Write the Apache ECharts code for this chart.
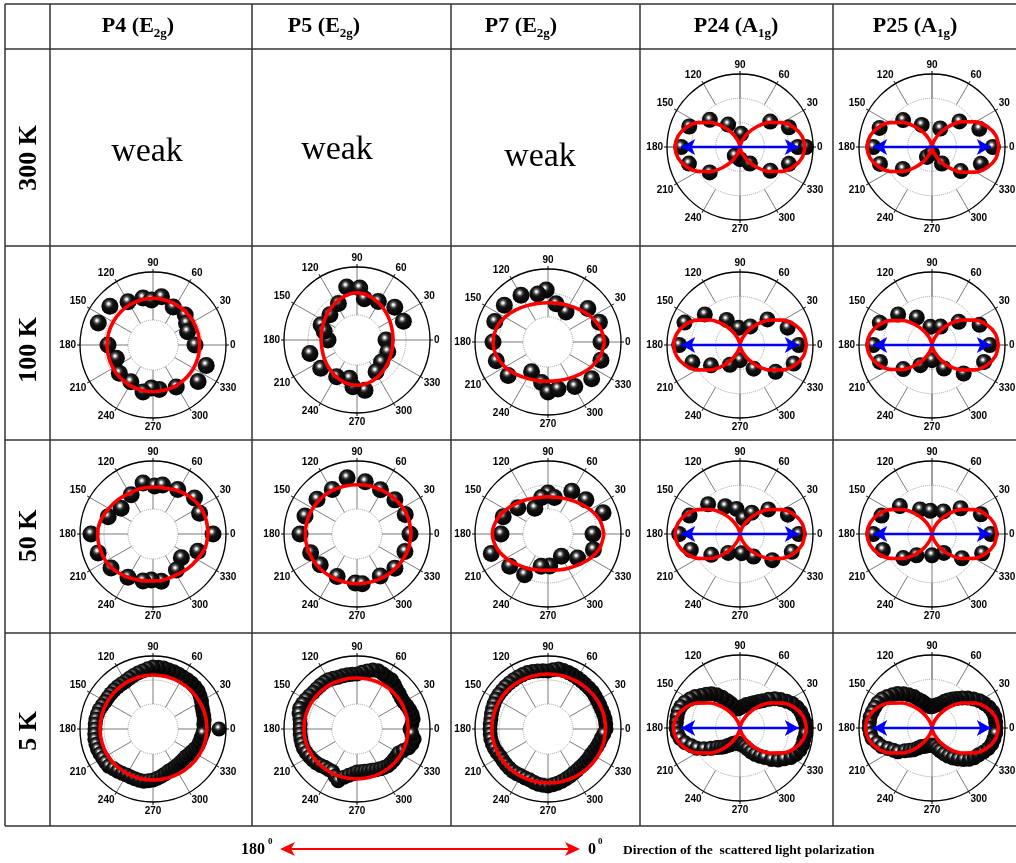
<!DOCTYPE html>
<html><head><meta charset="utf-8">
<script src="https://cdn.jsdelivr.net/npm/echarts@6/dist/echarts.min.js"></script>
<style>html,body{margin:0;padding:0;background:#fff}#c{width:1016px;height:863px}</style>
</head><body><div id="c"></div>
<script>
// ---------- labels ----------
const ROW_LABELS = ['300 K', '100 K', '50 K', '5 K'];
const PEAK_NAMES = ['P4', 'P5', 'P7', 'P24', 'P25'];
const SYM_MAIN = ['E', 'E', 'E', 'A', 'A'];
const SYM_SUB = ['2g', '2g', '2g', '1g', '1g'];
const WEAK_TEXT = 'weak';
const FOOT_LEFT = '180';
const FOOT_RIGHT = '0';
const FOOT_DEG = '0';
const FOOT_TEXT = 'Direction of the  scattered light polarization';

// ---------- angles ----------
const FIT_ANGLES_15 = [0,15,30,45,60,75,90,105,120,135,150,165,180,195,210,225,240,255,270,285,300,315,330,345,360];
const FIT_ANGLES_10 = [0,10,20,30,40,50,60,70,80,90,100,110,120,130,140,150,160,170,180,190,200,210,220,230,240,250,260,270,280,290,300,310,320,330,340,350,360];
const ANGLES_5 = [0,5,10,15,20,25,30,35,40,45,50,55,60,65,70,75,80,85,90,95,100,105,110,115,120,125,130,135,140,145,150,155,160,165,170,175,180,185,190,195,200,205,210,215,220,225,230,235,240,245,250,255,260,265,270,275,280,285,290,295,300,305,310,315,320,325,330,335,340,345,350,355];

// ---------- measured points [intensity, angle] ----------
const P24_300K_BALLS = [[5.8,180],[5.4,158],[4.0,138],[2.5,118],[1.3,85],[1.2,270],[3.9,40],[5.2,22],[5.7,0],[6.5,0],[5.1,341],[3.8,322],[1.9,301],[1.0,239],[3.9,220],[5.3,198]];
const P25_300K_BALLS = [[5.8,180],[5.5,160],[3.9,137],[2.4,115],[2.0,66],[3.7,43],[5.0,21],[6.0,0],[5.1,341],[3.7,320],[1.9,301],[1.1,243],[3.6,217],[5.4,198],[0.6,270]];
const P4_100K_BALLS = [[3.3,138],[3.4,158],[2.5,120],[2.3,102],[2.0,92],[2.4,80],[1.8,62],[1.9,43],[1.5,33],[1.2,21],[1.7,0],[3.2,339],[3.3,321],[2.3,299],[2.0,278],[1.8,268],[2.3,258],[1.8,239],[1.9,220],[1.4,200],[2.0,180]];
const P5_100K_BALLS = [[2.9,101],[2.7,87],[1.7,80],[1.9,61],[2.5,41],[2.5,22],[0.4,0],[0.8,339],[0.8,318],[1.2,301],[2.6,279],[2.2,265],[1.4,259],[1.7,241],[2.1,218],[2.4,196],[0.4,180],[1.4,157],[0.9,165],[1.2,137],[1.6,117]];
const P7_100K_BALLS = [[2.7,92],[2.4,102],[2.9,120],[3.2,140],[3.2,159],[3.0,180],[3.0,200],[2.7,220],[0.9,241],[1.6,261],[2.5,270],[2.3,282],[2.7,301],[3.2,320],[3.1,341],[2.8,0],[3.0,21],[2.7,40],[1.0,59],[1.4,78]];
const P24_100K_BALLS = [[6.0,180],[5.9,158],[4.6,139],[2.8,118],[1.7,95],[2.1,61],[3.7,43],[5.0,20],[5.8,0],[5.6,341],[4.4,323],[2.7,300],[1.5,270],[2.2,243],[3.5,215],[5.0,200]];
const P25_100K_BALLS = [[5.8,180],[5.6,157],[4.5,138],[3.1,119],[1.8,95],[2.0,65],[3.5,41],[5.1,23],[5.7,0],[5.4,342],[4.2,318],[2.6,297],[1.5,270],[2.3,240],[3.7,220],[5.4,198]];
const P4_50K_BALLS = [[3.7,180],[2.3,159],[1.6,141],[2.0,119],[2.7,101],[2.3,88],[2.5,79],[2.6,61],[3.0,41],[2.6,24],[3.5,0],[2.3,339],[1.2,320],[1.8,303],[2.3,280],[2.1,268],[2.3,258],[2.5,240],[2.9,219],[3.3,199]];
const P5_50K_BALLS = [[3.2,180],[3.0,161],[2.8,139],[2.6,119],[3.2,100],[2.8,81],[2.5,62],[2.6,42],[2.7,22],[2.8,0],[2.6,340],[2.6,318],[2.3,299],[2.4,268],[2.5,276],[2.2,245],[2.3,220],[2.5,202]];
const P7_50K_BALLS = [[2.2,180],[2.3,159],[1.5,139],[0.4,117],[1.6,90],[1.2,100],[1.2,80],[2.4,61],[2.6,42],[3.4,21],[2.0,0],[2.3,341],[1.3,321],[0.1,301],[0.7,273],[0.8,258],[2.2,240],[2.5,220],[3.5,199]];
const P24_50K_BALLS = [[6.0,180],[5.3,160],[4.3,137],[3.1,118],[2.5,98],[1.6,78],[2.4,61],[3.7,41],[5.1,22],[5.8,0],[5.4,341],[4.1,321],[2.6,301],[1.9,275],[2.2,238],[3.5,216],[5.1,198]];
const P25_50K_BALLS = [[5.8,180],[5.3,160],[4.2,139],[2.7,116],[2.3,94],[2.5,63],[3.8,42],[5.2,22],[5.8,0],[5.3,339],[3.8,321],[2.2,302],[2.1,270],[2.6,234],[3.7,220],[5.1,198]];

// 5 K: intensities at ANGLES_5
const P4_5K_R = [2.6,2.6,2.7,2.75,2.8,2.9,3.1,3.25,3.4,3.45,3.5,3.5,3.5,3.55,3.6,3.6,3.7,3.7,3.7,3.55,3.4,3.3,3.2,3.1,3.0,3.0,3.0,3.0,3.0,3.0,3.0,3.1,3.2,3.25,3.3,3.3,3.3,3.35,3.4,3.4,3.4,3.35,3.3,3.3,3.3,3.1,3.0,2.9,2.8,2.8,2.8,2.8,2.8,2.7,2.6,2.45,2.3,2.15,2.0,1.95,1.9,1.85,1.8,1.8,1.8,1.9,2.0,2.15,2.3,2.35,2.4,2.5];
const P4_5K_EXTRA = [[4.1,0]];
const P5_5K_R = [2.8,3.0,3.2,3.2,3.1,3.0,2.9,2.9,3.0,3.1,3.3,3.5,3.5,3.6,3.7,3.6,3.4,3.2,3.0,3.0,3.0,3.0,3.0,3.1,3.2,3.2,3.2,3.2,3.2,3.3,3.4,3.5,3.6,3.5,3.3,3.2,3.2,3.2,3.2,3.2,3.2,3.1,3.0,2.9,2.8,2.65,2.5,2.45,2.4,2.7,3.0,2.5,2.2,2.0,1.8,1.8,1.8,1.85,1.9,2.0,2.1,2.2,2.3,2.3,2.3,2.3,2.3,2.6,3.0,3.2,3.3,3.0];
const P7_5K_R = [3.3,3.3,3.3,3.25,3.2,3.2,3.2,3.25,3.3,3.3,3.3,3.35,3.4,3.45,3.5,3.55,3.6,3.45,3.3,3.35,3.4,3.45,3.5,3.5,3.5,3.5,3.5,3.5,3.5,3.5,3.5,3.45,3.4,3.35,3.3,3.3,3.3,3.3,3.3,3.25,3.2,3.1,3.0,3.0,3.0,3.0,3.0,2.95,2.9,2.9,2.9,3.0,3.1,3.15,3.2,3.1,3.0,2.9,2.8,2.7,2.6,2.55,2.5,2.5,2.5,2.5,2.5,2.6,2.7,2.8,2.9,3.1];
const P24_5K_R = [6.5,6.45,6.3,6.2,6.0,5.7,5.3,4.9,4.5,4.0,3.5,3.2,2.9,2.7,2.5,2.4,2.2,2.1,2.0,1.9,1.9,2.2,2.6,3.0,3.5,4.0,4.4,4.7,5.0,5.4,5.7,6.0,6.2,6.3,6.3,6.3,6.3,6.2,6.0,5.6,5.1,4.7,4.1,3.5,3.0,2.7,2.4,2.1,1.9,1.7,1.6,1.5,1.5,1.5,1.6,1.6,1.7,1.9,2.2,2.6,3.0,3.4,3.8,4.4,4.9,5.3,5.8,6.1,6.3,6.4,6.4,6.5];
const P25_5K_R = [6.3,6.3,6.3,6.2,6.0,5.7,5.4,5.0,4.6,4.2,3.8,3.5,3.2,2.9,2.6,2.4,2.3,2.2,2.1,2.1,2.2,2.5,2.8,3.1,3.6,4.0,4.4,4.8,5.1,5.4,5.7,5.9,6.0,6.1,6.2,6.2,6.2,6.1,6.0,5.6,5.3,4.8,4.4,4.1,3.5,3.1,2.8,2.4,2.1,2.0,1.9,1.8,1.7,1.7,1.7,1.7,1.8,2.1,2.4,2.8,3.2,3.6,4.0,4.4,4.8,5.1,5.3,5.6,5.9,6.1,6.2,6.3];

// ---------- fitted curves ----------
const P4_100K_FIT = [2.17,2.16,2.15,2.15,2.16,2.17,2.17,2.16,2.14,2.12,2.1,2.1,2.1,2.1,2.12,2.14,2.16,2.17,2.17,2.17,2.17,2.17,2.17,2.17,2.17];
const P5_100K_FIT = [1.1,1.15,1.3,1.52,1.8,2.07,2.22,2.07,1.8,1.52,1.3,1.15,1.08,1.12,1.27,1.47,1.72,1.93,2.02,1.93,1.72,1.47,1.27,1.13,1.1];
const P7_100K_FIT = [3.15,2.92,2.5,2.05,1.7,1.5,1.43,1.5,1.7,2.05,2.48,2.85,3.0,2.85,2.48,2.05,1.7,1.5,1.43,1.5,1.7,2.05,2.5,2.92,3.15];
const P4_50K_FIT = [3.0,3.0,2.95,2.75,2.5,2.25,2.2,2.2,2.2,2.4,2.6,2.9,3.05,3.0,2.95,2.75,2.5,2.3,2.2,2.2,2.2,2.4,2.6,2.9,3.0];
const P5_50K_FIT = [2.9,2.87,2.78,2.65,2.55,2.47,2.43,2.45,2.5,2.56,2.62,2.66,2.67,2.66,2.62,2.56,2.5,2.47,2.47,2.5,2.56,2.65,2.75,2.85,2.9];
const P7_50K_FIT = [3.1,2.87,2.37,1.86,1.5,1.28,1.22,1.28,1.5,1.86,2.35,2.82,3.07,2.82,2.35,1.84,1.47,1.22,1.13,1.22,1.47,1.84,2.37,2.87,3.1];
const P4_5K_FIT = [2.9,2.9,2.9,2.9,2.9,2.9,2.9,2.88,2.86,2.84,2.82,2.8,2.8,2.78,2.75,2.7,2.65,2.62,2.6,2.62,2.66,2.72,2.8,2.86,2.9];
const P5_5K_FIT = [2.62,2.63,2.65,2.66,2.65,2.62,2.6,2.63,2.68,2.73,2.77,2.8,2.81,2.78,2.72,2.65,2.58,2.53,2.5,2.5,2.52,2.55,2.58,2.6,2.62];
const P7_5K_FIT = [3.27,3.25,3.2,3.12,3.05,3.01,3.0,3.02,3.06,3.1,3.12,3.12,3.12,3.1,3.05,3.0,2.95,2.91,2.9,2.93,3.0,3.08,3.17,3.23,3.27];
const P24_300K_FIT = [6.4,6.21,5.65,4.8,3.76,2.64,1.6,0.75,0.19,0,0.19,0.75,1.6,2.64,3.76,4.8,5.65,6.21,6.4,6.21,5.65,4.8,3.76,2.64,1.6,0.75,0.19,0,0.19,0.75,1.6,2.64,3.76,4.8,5.65,6.21,6.4];
const P25_300K_FIT = [6.6,6.4,5.83,4.95,3.87,2.73,1.65,0.77,0.2,0,0.19,0.75,1.6,2.64,3.76,4.8,5.65,6.21,6.4,6.21,5.65,4.8,3.76,2.64,1.6,0.75,0.19,0,0.2,0.77,1.65,2.73,3.87,4.95,5.83,6.4,6.6];
const P24_100K_FIT = [6.55,6.35,5.78,4.91,3.84,2.71,1.64,0.77,0.2,0,0.2,0.77,1.64,2.71,3.84,4.91,5.78,6.35,6.55,6.35,5.78,4.91,3.84,2.71,1.64,0.77,0.2,0,0.2,0.77,1.64,2.71,3.84,4.91,5.78,6.35,6.55];
const P25_100K_FIT = [6.55,6.35,5.78,4.91,3.84,2.71,1.64,0.77,0.2,0,0.19,0.75,1.6,2.64,3.76,4.8,5.65,6.21,6.4,6.21,5.65,4.8,3.76,2.64,1.6,0.75,0.19,0,0.2,0.77,1.64,2.71,3.84,4.91,5.78,6.35,6.55];
const P24_50K_FIT = [6.4,6.21,5.65,4.8,3.76,2.64,1.6,0.75,0.19,0,0.19,0.75,1.6,2.64,3.76,4.8,5.65,6.21,6.4,6.21,5.65,4.8,3.76,2.64,1.6,0.75,0.19,0,0.19,0.75,1.6,2.64,3.76,4.8,5.65,6.21,6.4];
const P25_50K_FIT = [6.4,6.21,5.65,4.8,3.76,2.64,1.6,0.75,0.19,0,0.19,0.75,1.6,2.64,3.76,4.8,5.65,6.21,6.4,6.21,5.65,4.8,3.76,2.64,1.6,0.75,0.19,0,0.19,0.75,1.6,2.64,3.76,4.8,5.65,6.21,6.4];
const P24_5K_FIT = [6.55,6.35,5.78,4.91,3.84,2.71,1.64,0.77,0.2,0,0.2,0.77,1.64,2.71,3.84,4.91,5.78,6.35,6.55,6.35,5.78,4.91,3.84,2.71,1.64,0.77,0.2,0,0.2,0.77,1.64,2.71,3.84,4.91,5.78,6.35,6.55];
const P25_5K_FIT = [6.55,6.35,5.78,4.91,3.84,2.71,1.64,0.77,0.2,0,0.2,0.77,1.64,2.71,3.84,4.91,5.78,6.35,6.55,6.35,5.78,4.91,3.84,2.71,1.64,0.77,0.2,0,0.2,0.77,1.64,2.71,3.84,4.91,5.78,6.35,6.55];

// polarization arrow (intensity position of the arrow tips, angles)
const ARROW_POINTS = [[5.8,180],[5.8,0]];

// ---------- layout ----------
const R_OUT = 73, R_HOLE = 25, R_MID = 49;
const pairs = (rs, extra) => ANGLES_5.map((a, i) => [rs[i], a]).concat(extra || []);
const PLOTS = [
  {c:[740,147], kind:'A', balls:P24_300K_BALLS, fit:P24_300K_FIT, size:16},
  {c:[932,147], kind:'A', balls:P25_300K_BALLS, fit:P25_300K_FIT, size:16},
  {c:[153,345], kind:'E', balls:P4_100K_BALLS, fit:P4_100K_FIT, size:17},
  {c:[357,340], kind:'E', balls:P5_100K_BALLS, fit:P5_100K_FIT, size:17},
  {c:[548,342], kind:'E', balls:P7_100K_BALLS, fit:P7_100K_FIT, size:17},
  {c:[740,345], kind:'A', balls:P24_100K_BALLS, fit:P24_100K_FIT, size:16},
  {c:[932,345], kind:'A', balls:P25_100K_BALLS, fit:P25_100K_FIT, size:16},
  {c:[153,534], kind:'E', balls:P4_50K_BALLS, fit:P4_50K_FIT, size:17},
  {c:[357,534], kind:'E', balls:P5_50K_BALLS, fit:P5_50K_FIT, size:17},
  {c:[548,534], kind:'E', balls:P7_50K_BALLS, fit:P7_50K_FIT, size:17},
  {c:[740,534], kind:'A', balls:P24_50K_BALLS, fit:P24_50K_FIT, size:16},
  {c:[932,534], kind:'A', balls:P25_50K_BALLS, fit:P25_50K_FIT, size:16},
  {c:[153,729], kind:'E', balls:pairs(P4_5K_R, P4_5K_EXTRA), fit:P4_5K_FIT, size:15},
  {c:[357,729], kind:'E', balls:pairs(P5_5K_R), fit:P5_5K_FIT, size:15},
  {c:[548,729], kind:'E', balls:pairs(P7_5K_R), fit:P7_5K_FIT, size:15},
  {c:[740,728], kind:'A', balls:pairs(P24_5K_R), fit:P24_5K_FIT, size:15},
  {c:[932,728], kind:'A', balls:pairs(P25_5K_R), fit:P25_5K_FIT, size:15}
];

const polar = [], angleAxis = [], radiusAxis = [], series = [];
const hidden = {show:false};
function addPolar(center, radius, aOpt, rOpt) {
  const i = polar.length;
  polar.push({center: center, radius: radius});
  angleAxis.push(Object.assign({polarIndex:i, type:'value', min:0, max:360, interval:30, startAngle:0, clockwise:false,
    axisLine:hidden, axisTick:hidden, axisLabel:hidden, splitLine:hidden, splitArea:hidden}, aOpt));
  radiusAxis.push(Object.assign({polarIndex:i, type:'value', min:0, max:1,
    axisLine:hidden, axisTick:hidden, axisLabel:hidden, splitLine:hidden, splitArea:hidden}, rOpt));
  return i;
}
const DOTTED = {show:true, lineStyle:{color:'#a0a0a0', type:'dotted', width:1}};
const SPOKE = {show:true, lineStyle:{color:'#7a7a7a', width:1}};
const BALL = {type:'radial', x:0.42, y:0.36, r:0.64, colorStops:[
  {offset:0, color:'#ffffff'}, {offset:0.1, color:'#e6e6e6'}, {offset:0.24, color:'#5a5a5a'},
  {offset:0.42, color:'#141414'}, {offset:1, color:'#000000'}]};

PLOTS.forEach(p => {
  let di;
  if (p.kind === 'E') {
    di = addPolar(p.c, [R_HOLE, R_OUT], {splitLine:SPOKE}, {max:4.8, interval:2.4, splitLine:DOTTED});
  } else {
    addPolar(p.c, [R_MID, R_OUT], {splitLine:SPOKE}, {});
    di = addPolar(p.c, [0, R_OUT], {interval:90, splitLine:SPOKE}, {max:7.2, interval:2.4, splitLine:DOTTED});
  }
  addPolar(p.c, [0, R_OUT], {
    axisLine:{show:true, lineStyle:{color:'#000', width:1.3}},
    axisTick:{show:true, length:3, lineStyle:{color:'#000', width:1}},
    axisLabel:{show:true, margin:4, fontSize:10, fontWeight:'bold', fontFamily:'Liberation Sans', color:'#000'}
  }, {});
  series.push({type:'scatter', coordinateSystem:'polar', polarIndex:di, data:p.balls, symbolSize:p.size,
    itemStyle:{color:BALL, opacity:1}, z:3, silent:true});
  const angs = p.kind === 'E' ? FIT_ANGLES_15 : FIT_ANGLES_10;
  series.push({type:'line', coordinateSystem:'polar', polarIndex:di, data:angs.map((a, i) => [p.fit[i], a]),
    showSymbol:false, symbol:'none', smooth:0.3, lineStyle:{color:'#ff0000', width:3.6}, z:4, silent:true});
  if (p.kind === 'A') {
    series.push({type:'line', coordinateSystem:'polar', polarIndex:di,
      data:[{value:ARROW_POINTS[0], symbolRotate:90}, {value:ARROW_POINTS[1], symbolRotate:-90}],
      symbol:'arrow', symbolSize:[12,14], showSymbol:true, lineStyle:{color:'#0000ff', width:2.5},
      itemStyle:{color:'#0000ff', opacity:1}, z:5, silent:true});
  }
});

// ---------- table & texts ----------
const G = [];
const line = (x1, y1, x2, y2, w, c) => ({type:'line', silent:true, shape:{x1, y1, x2, y2}, style:{stroke:c, lineWidth:w}});
[4, 49, 246, 440, 633, 826].forEach(y => G.push(line(5, y, 1016, y, 1.5, '#333')));
[5, 50, 252, 451, 640, 833].forEach(x => G.push(line(x, 4, x, 826, 1.5, '#333')));

const HEAD_X = [138, 324, 521, 736, 915];
PEAK_NAMES.forEach((n, i) => G.push({type:'text', x:HEAD_X[i], y:26, silent:true, style:{
  text:'{m|' + n + ' (' + SYM_MAIN[i] + '}{s|' + SYM_SUB[i] + '}{m|)}', align:'center', verticalAlign:'middle',
  rich:{m:{fontSize:22, fontWeight:'bold', fontFamily:'Liberation Serif', fill:'#000'},
        s:{fontSize:13, fontWeight:'bold', fontFamily:'Liberation Serif', fill:'#000', padding:[16,0,0,0]}}}}));

const ROW_Y = [158, 350, 536, 731];
ROW_LABELS.forEach((t, i) => G.push({type:'text', x:29, y:ROW_Y[i], rotation:Math.PI / 2, silent:true,
  style:{text:t, fontSize:26, fontWeight:'bold', fontFamily:'Liberation Serif', fill:'#000', align:'center', verticalAlign:'middle'}}));

[[147,152],[337,150],[540,157]].forEach(pt => G.push({type:'text', x:pt[0], y:pt[1], silent:true,
  style:{text:WEAK_TEXT, fontSize:34, fontFamily:'Liberation Serif', fill:'#000', align:'center', verticalAlign:'middle'}}));

// footer
const serifB = (t, x, y, fs, align) => ({type:'text', x, y, silent:true,
  style:{text:t, fontSize:fs, fontWeight:'bold', fontFamily:'Liberation Serif', fill:'#000', align:align || 'left', verticalAlign:'middle'}});
G.push(serifB(FOOT_LEFT, 241, 850, 16));
G.push(serifB(FOOT_DEG, 268, 842, 9));
G.push(serifB(FOOT_RIGHT, 588, 850, 16));
G.push(serifB(FOOT_DEG, 598, 842, 9));
G.push(serifB(FOOT_TEXT, 623, 851, 13.5));
G.push(line(288, 849, 572, 849, 2, '#ff0000'));
G.push({type:'polygon', silent:true, shape:{points:[[280,849],[295,842],[291,849],[295,856]]}, style:{fill:'#ff0000'}});
G.push({type:'polygon', silent:true, shape:{points:[[580,849],[565,842],[569,849],[565,856]]}, style:{fill:'#ff0000'}});

const chart = echarts.init(document.getElementById('c'), null, {renderer:'canvas'});
chart.setOption({backgroundColor:'#ffffff', animation:false, polar, angleAxis, radiusAxis, series, graphic:G});
</script>
</body></html>
